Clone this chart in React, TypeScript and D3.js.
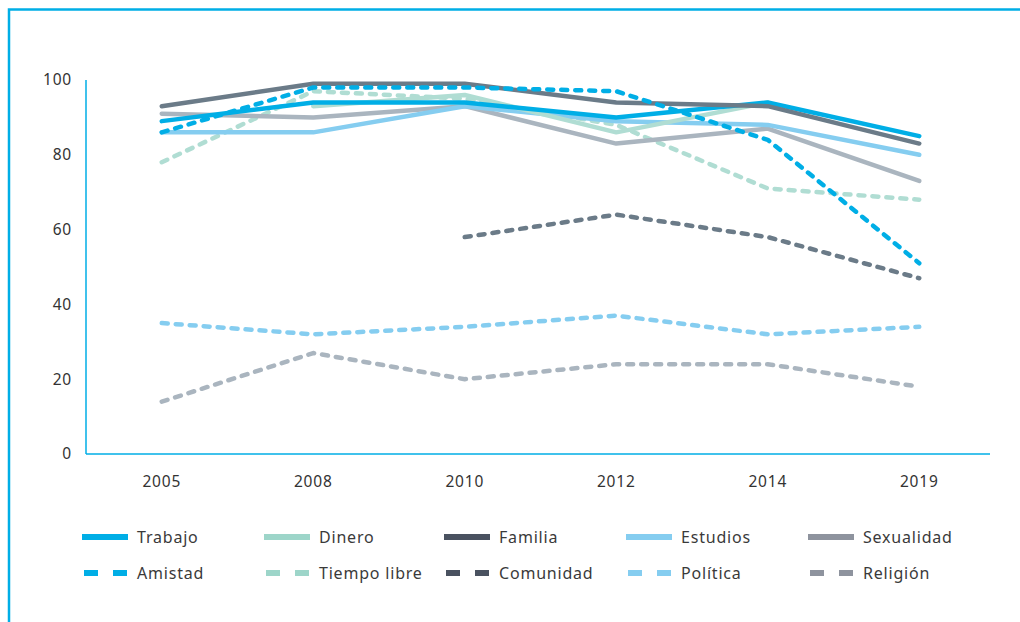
import React from "react";
import * as d3 from "d3";

// data
const years = ["2005", "2008", "2010", "2012", "2014", "2019"];
const yTicks = [0, 20, 40, 60, 80, 100];

const trabajo = [89, 94, 94, 90, 94, 85];
const dinero = [null, 93, 96, 86, 94, null];
const familia = [93, 99, 99, 94, 93, 83];
const estudios = [86, 86, 93, 89, 88, 80];
const sexualidad = [91, 90, 93, 83, 87, 73];
const amistad = [86, 98, 98, 97, 84, 51];
const tiempoLibre = [78, 97, 95, 88, 71, 68];
const comunidad = [null, null, 58, 64, 58, 47];
const politica = [35, 32, 34, 37, 32, 34];
const religion = [14, 27, 20, 24, 24, 18];

type S = { name: string; values: (number | null)[]; color: string; legend: string; dashed: boolean };

const series: S[] = [
  { name: "Trabajo", values: trabajo, color: "#00aee6", legend: "#00aee6", dashed: false },
  { name: "Dinero", values: dinero, color: "#b0ddd3", legend: "#9dd5c9", dashed: false },
  { name: "Familia", values: familia, color: "#6b7b88", legend: "#4a5260", dashed: false },
  { name: "Estudios", values: estudios, color: "#85cdf0", legend: "#85cdf0", dashed: false },
  { name: "Sexualidad", values: sexualidad, color: "#aab5bf", legend: "#8e939e", dashed: false },
  { name: "Amistad", values: amistad, color: "#00aee6", legend: "#00aee6", dashed: true },
  { name: "Tiempo libre", values: tiempoLibre, color: "#b0ddd3", legend: "#9dd5c9", dashed: true },
  { name: "Comunidad", values: comunidad, color: "#6b7b88", legend: "#4a5260", dashed: true },
  { name: "Política", values: politica, color: "#85cdf0", legend: "#85cdf0", dashed: true },
  { name: "Religión", values: religion, color: "#aab5bf", legend: "#8e939e", dashed: true },
];

const drawOrder = [8, 9, 7, 6, 4, 3, 1, 0, 2, 5];

export default function App() {
  const W = 1020;
  const H = 622;
  const left = 86, right = 995, top = 80, bottom = 454;

  const x = d3.scaleBand<string>().domain(years).range([left, right]);
  const y = d3.scaleLinear().domain([0, 100]).range([bottom, top]);
  const cx = (i: number) => (x(years[i]) as number) + x.bandwidth() / 2;

  const line = d3
    .line<number | null>()
    .defined((d) => d !== null)
    .x((_d, i) => cx(i))
    .y((d) => y(d as number));

  const font = "'Noto Sans', 'DejaVu Sans', sans-serif";
  const colX = [82, 264, 444, 626, 808];
  const rowY = [537, 573];

  return (
    <div style={{ position: "absolute", left: 0, top: 0 }}>
      <svg width={W} height={H} style={{ display: "block", background: "#fff" }}>
        <rect x={9} y={9.5} width={1100} height={700} fill="none" stroke="#00aee6" strokeWidth={2.5} />

        {/* axes */}
        <line x1={left} x2={left} y1={top} y2={bottom} stroke="#00aee6" strokeWidth={1.5} />
        <line x1={left} x2={990} y1={bottom} y2={bottom} stroke="#00aee6" strokeWidth={1.5} />

        {yTicks.map((t) => (
          <text key={t} x={72} y={y(t)} dy="0.35em" textAnchor="end" fontFamily={font} fontSize={15.5} letterSpacing={0.8} fill="#333">
            {t}
          </text>
        ))}
        {years.map((yr, i) => (
          <text key={yr} x={cx(i)} y={487} textAnchor="middle" fontFamily={font} fontSize={15.5} letterSpacing={0.8} fill="#333">
            {yr}
          </text>
        ))}

        {drawOrder.map((k) => {
          const s = series[k];
          return (
            <path
              key={s.name}
              d={line(s.values) || ""}
              fill="none"
              stroke={s.color}
              strokeWidth={4.5}
              strokeLinejoin="round"
              strokeLinecap="round"
              strokeDasharray={s.dashed ? "6,8" : undefined}
            />
          );
        })}

        {series.map((s, i) => {
          const gx = colX[i % 5];
          const gy = rowY[Math.floor(i / 5)];
          return (
            <g key={s.name}>
              {s.dashed ? (
                <>
                  <rect x={gx + 2} y={gy - 3} width={14} height={6} fill={s.legend} />
                  <rect x={gx + 31} y={gy - 3} width={14} height={6} fill={s.legend} />
                </>
              ) : (
                <rect x={gx} y={gy - 3} width={46} height={6} fill={s.legend} />
              )}
              <text x={gx + 55} y={gy} dy="0.35em" fontFamily={font} fontSize={16} letterSpacing={0.8} fill="#3a3a3a">
                {s.name}
              </text>
            </g>
          );
        })}
      </svg>
    </div>
  );
}
